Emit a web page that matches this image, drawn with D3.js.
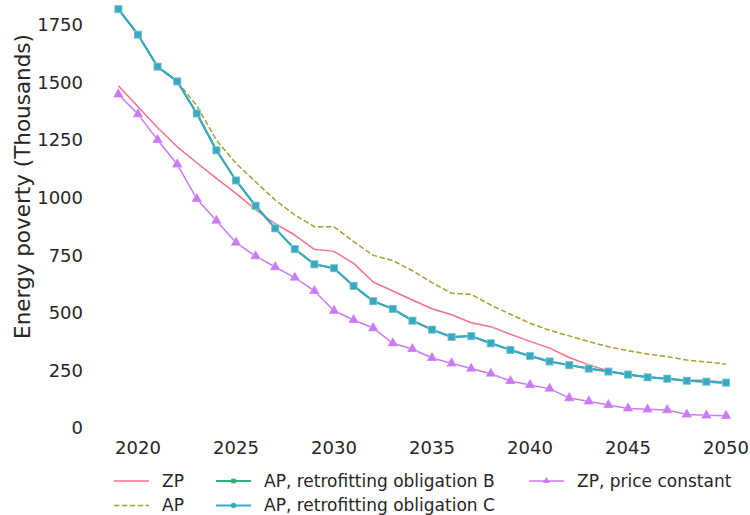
<!DOCTYPE html>
<html><head><meta charset="utf-8">
<script src="https://cdn.jsdelivr.net/npm/d3@7"></script>
<style>body{margin:0;background:#fff}svg{display:block;font-family:"DejaVu Sans",sans-serif}</style>
</head><body><svg id="c" width="750" height="515"></svg>
<script>
const years = d3.range(2019, 2051);
const zp = [1486,1395,1304,1221,1152,1084,1019,948,887,838,776,767,715,634,595,556,518,492,457,440,407,376,347,306,274,248,232,221,215,207,207,197];
const ap = [1819,1708,1569,1505,1400,1250,1149,1069,990,925,874,874,809,750,727,683,631,585,580,534,494,455,424,400,375,353,336,321,310,295,287,277];
const apB = [1819,1708,1569,1505,1366,1206,1075,965,867,777,711,694,617,551,517,466,427,395,399,368,339,313,289,273,258,245,232,220,214,205,201,197];
const apC = [1819,1708,1569,1505,1366,1206,1075,965,867,777,711,694,617,551,517,466,427,395,399,368,339,313,289,273,258,245,232,220,214,205,201,197];
const zpConst = [1449,1363,1251,1145,995,900,805,746,699,653,595,509,469,434,368,343,304,281,258,236,204,187,171,130,116,100,85,81,78,59,55,53];
const xTicks = [2020,2025,2030,2035,2040,2045,2050];
const yTicks = [0,250,500,750,1000,1250,1500,1750];
const seriesNames = ["ZP","AP","AP, retrofitting obligation B","AP, retrofitting obligation C","ZP, price constant"];
const colors = ["#f77189","#ae9d31","#33b07a","#38a9c5","#cc7af4"];

const svg = d3.select("#c");
const x = d3.scaleLinear().domain([2020,2050]).range([138,726]);
const y = d3.scaleLinear().domain([0,1750]).range([428,25]);

const series = [
  {name:seriesNames[0], vals:zp, color:colors[0], w:1.5, dash:null, marker:null},
  {name:seriesNames[1], vals:ap, color:colors[1], w:1.5, dash:"5.5,2.4", marker:null},
  {name:seriesNames[2], vals:apB, color:colors[2], w:2, dash:null, marker:"square"},
  {name:seriesNames[3], vals:apC, color:colors[3], w:2, dash:null, marker:"square"},
  {name:seriesNames[4], vals:zpConst, color:colors[4], w:1.5, dash:null, marker:"triangle"}
];

const fs = 18;
svg.append("g").selectAll("text").data(yTicks).join("text")
  .attr("x",83).attr("y",d=>y(d)).attr("dy","0.35em").attr("text-anchor","end")
  .attr("font-size",fs).attr("fill","#262626").text(d=>d);
svg.append("g").selectAll("text").data(xTicks).join("text")
  .attr("x",d=>x(d)).attr("y",454).attr("text-anchor","middle")
  .attr("font-size",fs).attr("fill","#262626").text(d=>d);
svg.append("text").attr("transform","translate(29.5,186.5) rotate(-90)")
  .attr("text-anchor","middle").attr("font-size",21.5).attr("fill","#262626")
  .text("Energy poverty (Thousands)");

const line = d3.line().x((d,i)=>x(years[i])).y(d=>y(d));
const sym = {square:d3.symbolSquare, triangle:d3.symbolTriangle, circle:d3.symbolCircle};

series.forEach((s,k)=>{
  svg.append("path").datum(s.vals).attr("d",line).attr("fill","none")
    .attr("stroke",s.color).attr("stroke-width",s.w)
    .attr("stroke-dasharray",s.dash).attr("stroke-linejoin","round");
  if(s.marker){
    const size = s.marker==="square" ? (k===2?64:52) : 50;
    svg.append("g").selectAll("path").data(s.vals).join("path")
      .attr("transform",(d,i)=>`translate(${x(years[i])},${y(d)})`)
      .attr("d",d3.symbol().type(sym[s.marker]).size(size))
      .attr("fill",s.color).attr("stroke","#fff").attr("stroke-opacity",0.5).attr("stroke-width",0.6);
  }
});

const legendItems = [
  {i:0, lx:114, ly:481, marker:null},
  {i:1, lx:114, ly:505.5, marker:null},
  {i:2, lx:216, ly:481, marker:"square"},
  {i:3, lx:216, ly:505.5, marker:"circle"},
  {i:4, lx:529, ly:481, marker:"triangle"}
];
const lg = svg.append("g");
legendItems.forEach(it=>{
  const s = series[it.i];
  lg.append("line").attr("x1",it.lx).attr("x2",it.lx+35).attr("y1",it.ly).attr("y2",it.ly)
    .attr("stroke",s.color).attr("stroke-width",s.w).attr("stroke-dasharray",s.dash);
  if(it.marker){
    lg.append("path").attr("transform",`translate(${it.lx+17.5},${it.ly})`)
      .attr("d",d3.symbol().type(sym[it.marker]).size(22)).attr("fill",s.color);
  }
  lg.append("text").attr("x",it.lx+48).attr("y",it.ly).attr("dy","0.35em")
    .attr("font-size",17).attr("fill","#262626").text(s.name);
});
</script></body></html>
